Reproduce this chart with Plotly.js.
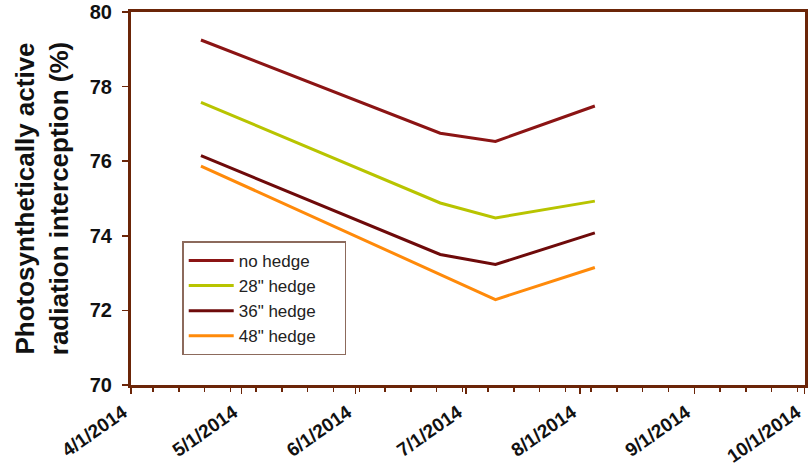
<!DOCTYPE html>
<html>
<head>
<meta charset="utf-8">
<script src="https://cdn.plot.ly/plotly-3.0.1.min.js"></script>
<style>
  html, body { margin: 0; padding: 0; background: white; }
  #chart { width: 808px; height: 466px; }
</style>
</head>
<body>
<div id="chart"></div>
<script>
// Fechas de medición
const dates = ['2014-04-20', '2014-06-24', '2014-07-09', '2014-08-05'];

// Intercepción de radiación (%) por tratamiento
const noHedge = [79.25, 76.75, 76.53, 77.48];
const hedge28 = [77.58, 74.88, 74.48, 74.93];
const hedge36 = [76.15, 73.50, 73.23, 74.08];
const hedge48 = [75.87, 72.97, 72.29, 73.15];

const seriesNames = ['no hedge', '28" hedge', '36" hedge', '48" hedge'];
const seriesColors = ['#8B1414', '#B8C400', '#6E0A0A', '#FF8A0A'];
const seriesValues = [noHedge, hedge28, hedge36, hedge48];

const monthTicks = ['2014-04-01', '2014-05-01', '2014-06-01', '2014-07-01', '2014-08-01', '2014-09-01', '2014-10-01'];
const monthLabels = ['4/1/2014', '5/1/2014', '6/1/2014', '7/1/2014', '8/1/2014', '9/1/2014', '10/1/2014'];

const axisColor = '#6B2508';
const font = 'Arial, Liberation Sans, sans-serif';
const nb = '\u00a0';

const traces = seriesValues.map((vals, i) => ({
    x: dates,
    y: vals,
    type: 'scatter',
    mode: 'lines',
    name: seriesNames[i] + nb.repeat(5),
    line: { color: seriesColors[i], width: 3 }
}));

const layout = {
    width: 808,
    height: 466,
    margin: { l: 131, r: 3, t: 12, b: 81 },
    plot_bgcolor: 'white',
    paper_bgcolor: 'white',
    showlegend: true,
    legend: {
        x: 0.076,
        y: 0.385,
        xanchor: 'left',
        yanchor: 'top',
        bgcolor: 'white',
        bordercolor: '#8C6A5C',
        borderwidth: 1.5,
        font: { family: font, size: 17, color: '#222' },
        tracegroupgap: 0,
        itemwidth: 45
    },
    xaxis: {
        type: 'date',
        range: ['2014-04-01', '2014-10-01 02:00'],
        tickvals: monthTicks,
        ticktext: monthLabels,
        tickangle: -35,
        ticklabelshift: -8,
        ticklabeloverflow: 'allow',
        ticks: 'outside',
        ticklen: 6,
        tickwidth: 1.5,
        tickcolor: axisColor,
        minor: {
            ticks: 'outside',
            tick0: '2014-04-07',
            dtick: 7 * 86400000,
            ticklen: 4,
            tickwidth: 1.5,
            tickcolor: axisColor,
            showgrid: false
        },
        showgrid: false,
        zeroline: false,
        showline: true,
        mirror: true,
        linecolor: axisColor,
        linewidth: 3,
        tickfont: { family: font, size: 19, color: '#111', weight: 'bold' }
    },
    yaxis: {
        range: [70, 80],
        tickvals: [70, 72, 74, 76, 78, 80],
        ticks: 'outside',
        ticklen: 6,
        tickwidth: 1.5,
        tickcolor: axisColor,
        ticklabelstandoff: 6,
        showgrid: false,
        zeroline: false,
        showline: true,
        mirror: true,
        linecolor: axisColor,
        linewidth: 3,
        tickfont: { family: font, size: 20, color: '#111', weight: 'bold' },
        title: {
            text: 'Photosynthetically active<br>radiation interception (%)',
            font: { family: font, size: 26, color: '#111', weight: 'bold' },
            standoff: 14
        }
    }
};

Plotly.newPlot('chart', traces, layout, { displayModeBar: false, staticPlot: true });
</script>
</body>
</html>
